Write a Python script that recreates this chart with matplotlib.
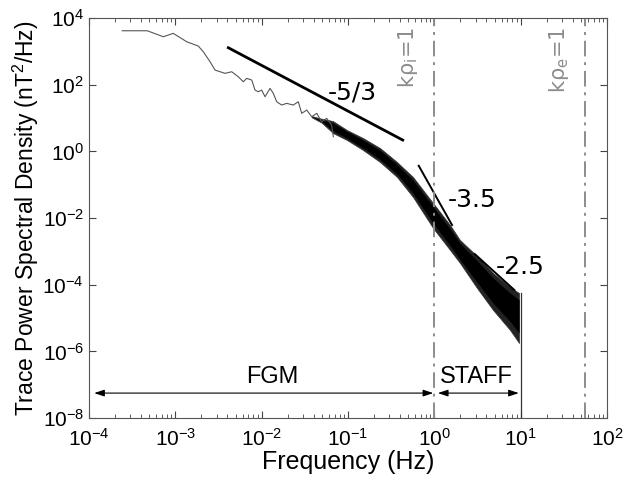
import numpy as np
import matplotlib
matplotlib.use('Agg')
import matplotlib.pyplot as plt

plt.rcParams['font.family'] = ['Liberation Sans', 'DejaVu Sans']
plt.rcParams['mathtext.default'] = 'regular'

# low-frequency part of the spectrum (log10 f, log10 PSD)
log_f_line = [-3.614, -3.325, -3.139, -3.024, -2.868, -2.734, -2.676, -2.598, -2.540,
              -2.425, -2.347, -2.271, -2.213, -2.173, -2.115, -2.077, -2.039, -2.000,
              -1.961, -1.903, -1.865, -1.826, -1.768, -1.710, -1.634, -1.576, -1.536,
              -1.478, -1.420, -1.362, -1.305, -1.247, -1.189, -1.170]
log_p_line = [3.619, 3.619, 3.439, 3.541, 3.289, 3.160, 2.989, 2.689, 2.440,
              2.341, 2.389, 2.239, 2.089, 2.191, 2.140, 1.840, 1.789, 1.840,
              1.639, 1.891, 1.741, 1.489, 1.390, 1.441, 1.390, 1.489, 1.141,
              1.240, 1.039, 1.141, 0.889, 0.991, 0.790, 0.440]

# dense high-frequency part: outer envelope (spikes) and inner core of the trace
log_f_band = [-1.420, -1.305, -1.174, -1.012, -0.826, -0.629, -0.432, -0.247, -0.015,
              0.182, 0.297, 0.494, 0.680, 0.877, 0.981]
log_p_hi = [1.060, 0.980, 0.910, 0.640, 0.400, 0.100, -0.320, -0.770, -1.550,
            -2.210, -2.660, -3.140, -3.650, -4.070, -4.250]
log_p_lo = [1.020, 0.860, 0.550, 0.340, 0.040, -0.320, -0.770, -1.370, -2.300,
            -2.960, -3.350, -4.100, -4.760, -5.360, -5.750]
log_core_hi = [1.040, 0.940, 0.85, 0.60, 0.34, 0.03, -0.40, -0.86, -1.66,
               -2.32, -2.76, -3.28, -3.80, -4.25, -4.45]
log_core_lo = [1.040, 0.900, 0.62, 0.40, 0.10, -0.24, -0.68, -1.25, -2.15,
               -2.82, -3.24, -3.92, -4.55, -5.10, -5.45]

# power-law guide lines: (log f start, log f end), (log P start, log P end)
slopes = {'-5/3': ((-2.386, -0.366), (3.109, 0.340)),
          '-3.5': ((-0.181, 0.205), (-0.431, -2.210)),
          '-2.5': ((0.468, 0.927), (-3.080, -4.160))}
slope_lw = {'-5/3': 2.0, '-3.5': 1.4, '-2.5': 1.4}
slope_txt = {'-5/3': (0.111, 60), '-3.5': (2.73, 0.0347), '-2.5': (9.8, 3.4e-4)}

f_ion, f_ele = 1.0, 55.0
f_staff_end = 10.0
arrow_y = 5.6e-8

fig = plt.figure(figsize=(6.24, 4.88), dpi=100)
ax = fig.add_axes([0.1426, 0.1434, 0.8302, 0.8196])

f_line = 10 ** np.array(log_f_line)
ax.plot(f_line, 10 ** np.array(log_p_line), color='#555555', lw=0.8)
f_band = 10 ** np.array(log_f_band)
ax.fill_between(f_band, 10 ** np.array(log_p_lo), 10 ** np.array(log_p_hi),
                color='#222222', lw=0.5, edgecolor='#333333')
ax.fill_between(f_band, 10 ** np.array(log_core_lo), 10 ** np.array(log_core_hi),
                color='black', lw=0)

for lab, (xs, ys) in slopes.items():
    ax.plot(10 ** np.array(xs), 10 ** np.array(ys), color='black', lw=slope_lw[lab])
    tx, ty = slope_txt[lab]
    ax.text(tx, ty, lab, family='DejaVu Sans', fontsize=18, ha='center', va='center')

ax.axvline(f_ion, color='#8c8c8c', lw=1.4, ls=(0, (8, 3, 1.5, 3)))
ax.axvline(f_ele, color='#8c8c8c', lw=1.4, ls=(0, (8, 3, 1.5, 3)))
ax.text(0.5, 5.4e3, 'kρ$_i$=1', family='DejaVu Sans', rotation=90, color='#8c8c8c',
        fontsize=15, ha='center', va='top')
ax.text(27.8, 5.4e3, 'kρ$_e$=1', family='DejaVu Sans', rotation=90, color='#8c8c8c',
        fontsize=15, ha='center', va='top')

ax.plot([f_staff_end, f_staff_end], [1e-8, 10 ** log_p_hi[-1]], color='#333333', lw=0.9)

arr = dict(arrowstyle='<|-|>,head_length=0.6,head_width=0.2', color='black', lw=0.8,
           shrinkA=0, shrinkB=0)
ax.annotate('', xy=(1.15e-4, arrow_y), xytext=(0.97, arrow_y), arrowprops=arr)
ax.annotate('', xy=(1.1, arrow_y), xytext=(9.5, arrow_y), arrowprops=arr)
ax.text(0.0132, 1.75e-7, 'FGM', fontsize=17, ha='center', va='center')
ax.text(3.1, 1.75e-7, 'STAFF', fontsize=17, ha='center', va='center')

ax.set_xscale('log')
ax.set_yscale('log')
ax.set_xlim(1e-4, 1e2)
ax.set_ylim(1e-8, 1e4)
ax.set_yticks([1e-8, 1e-6, 1e-4, 1e-2, 1e0, 1e2, 1e4])
ax.yaxis.set_minor_locator(matplotlib.ticker.NullLocator())
ax.tick_params(which='both', direction='in', top=True, right=True, labelsize=15,
               color='#444444')
ax.tick_params(axis='x', which='major', pad=7)
ax.tick_params(which='major', length=5)
ax.tick_params(which='minor', length=3)
for s in ax.spines.values():
    s.set_color('#555555')
ax.set_xlabel('Frequency (Hz)', fontsize=18, labelpad=0)
ax.set_ylabel('Trace Power Spectral Density (nT$^2$/Hz)', fontsize=16.5, labelpad=1)

fig.savefig('out.png', dpi=100)
